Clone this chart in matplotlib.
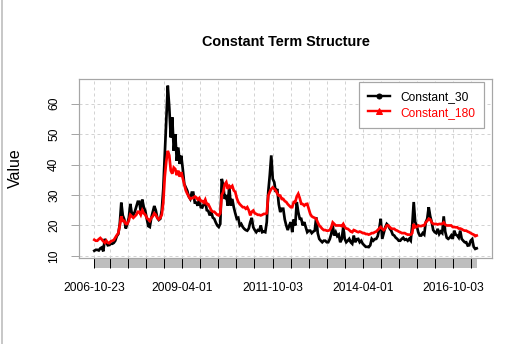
import numpy as np
import pandas as pd
import matplotlib
matplotlib.use("Agg")
import matplotlib.pyplot as plt
import matplotlib.dates as mdates
from matplotlib.lines import Line2D
from matplotlib.patches import Rectangle
import matplotlib.transforms as mtransforms

plt.rcParams["font.family"] = ["Liberation Sans", "DejaVu Sans"]

# semi-monthly readings, Oct 2006 .. May 2017
constant_30 = [
    11.7, 12.0, 12.0, 11.8, 12.5, 12.8, 11.5, 15.6, 14.5, 13.5, 13.6, 14.0,
    14.0, 14.3, 15.0, 16.5, 17.2, 20.5, 27.5, 23.3, 22.0, 19.0, 20.5, 22.5,
    27.1, 24.0, 23.3, 24.5, 26.1, 27.8, 27.8, 24.5, 28.5, 26.0, 24.8, 22.2,
    19.8, 19.5, 22.5, 24.5, 26.4, 25.0, 22.5, 21.8, 22.2, 25.0, 32.0, 43.5,
    55.5, 65.9, 58.8, 48.9, 55.5, 44.5, 50.0, 41.2, 45.6, 40.2, 42.9, 38.5,
    33.6, 32.5, 31.4, 29.5, 28.7, 30.8, 30.8, 27.5, 27.5, 26.5, 28.7, 26.0,
    25.9, 27.0, 28.0, 25.0, 24.8, 23.3, 24.5, 22.6, 22.2, 21.0, 20.0, 19.5,
    20.5, 35.3, 33.0, 28.7, 30.0, 26.5, 33.0, 26.5, 28.7, 26.0, 24.0, 22.2,
    22.5, 20.0, 20.5, 19.5, 18.9, 18.5, 18.3, 19.0, 21.1, 22.5, 19.4, 18.5,
    17.8, 18.5, 18.3, 20.0, 17.8, 18.0, 17.8, 21.1, 31.0, 36.4, 43.0, 35.3,
    34.2, 31.0, 32.0, 27.0, 24.4, 25.5, 25.5, 22.0, 20.0, 18.5, 20.0, 21.1,
    17.8, 22.0, 20.0, 27.7, 24.4, 22.2, 22.2, 20.0, 21.1, 19.5, 17.8, 18.3,
    18.3, 17.5, 18.0, 18.3, 22.7, 17.5, 15.6, 15.0, 14.5, 15.0, 15.0, 14.5,
    14.5, 15.5, 17.2, 20.0, 16.7, 17.8, 16.5, 17.0, 14.5, 15.5, 19.4, 15.6,
    14.5, 15.0, 15.6, 14.5, 14.0, 16.7, 14.5, 15.5, 15.6, 14.5, 15.0, 14.0,
    13.5, 13.0, 13.0, 12.9, 13.5, 15.6, 15.0, 15.5, 15.6, 16.5, 18.9, 22.2,
    15.6, 17.5, 19.4, 20.5, 20.0, 19.0, 18.3, 17.0, 16.7, 16.0, 15.6, 15.0,
    15.0, 15.6, 16.0, 15.3, 15.5, 15.0, 15.6, 15.0, 20.0, 27.7, 21.1, 20.0,
    17.8, 16.7, 16.7, 17.5, 17.0, 21.0, 22.2, 26.0, 23.0, 21.1, 18.5, 17.8,
    17.5, 18.9, 17.2, 18.0, 17.5, 23.0, 18.0, 16.0, 15.6, 16.0, 16.7, 15.6,
    18.3, 17.0, 16.7, 16.0, 18.3, 15.6, 15.0, 14.5, 14.5, 13.4, 13.5, 15.0,
    15.5, 13.0, 12.3, 12.5,
]

constant_180 = [
    15.3, 15.0, 15.0, 15.5, 15.9, 15.4, 14.8, 14.3, 15.0, 14.3, 14.2, 14.8,
    15.0, 15.2, 16.0, 16.8, 17.5, 20.0, 23.0, 21.5, 21.5, 20.5, 20.5, 21.5,
    23.5, 23.0, 22.5, 23.0, 23.5, 24.5, 24.5, 23.5, 25.0, 24.0, 23.5, 22.5,
    22.0, 21.5, 22.5, 23.0, 24.0, 23.5, 22.5, 22.0, 22.5, 23.5, 27.5, 36.0,
    41.0, 44.5, 43.0, 38.0, 37.0, 39.0, 38.5, 36.5, 38.0, 36.0, 37.5, 35.5,
    33.5, 31.5, 30.4, 29.5, 28.7, 29.0, 29.0, 29.5, 29.2, 28.5, 29.0, 28.0,
    28.0, 27.5, 28.5, 27.0, 27.0, 26.0, 25.0, 24.5, 24.5, 24.0, 23.5, 23.3,
    24.0, 30.0, 31.0, 33.5, 34.2, 32.0, 33.0, 32.5, 33.0, 31.5, 31.0, 29.0,
    27.7, 27.0, 26.5, 26.0, 26.0, 25.5, 26.0, 25.0, 23.3, 24.5, 24.9, 24.0,
    23.8, 23.5, 23.5, 23.3, 23.5, 23.8, 23.8, 24.0, 29.8, 31.0, 32.0, 32.5,
    32.0, 31.5, 30.5, 29.8, 29.8, 28.7, 28.7, 28.0, 27.7, 27.0, 26.5, 26.0,
    26.0, 27.7, 27.7, 29.5, 30.4, 29.0, 27.1, 27.0, 26.5, 27.0, 27.1, 25.5,
    23.8, 23.0, 22.7, 22.5, 22.2, 21.0, 20.0, 19.5, 18.9, 18.5, 18.5, 18.3,
    18.3, 18.5, 19.4, 21.0, 20.5, 20.0, 20.0, 20.0, 20.0, 19.8, 20.5, 19.5,
    19.0, 18.9, 18.5, 18.0, 17.8, 18.5, 18.3, 18.0, 17.8, 18.0, 17.8, 17.5,
    17.5, 17.2, 17.2, 17.0, 17.2, 17.5, 17.5, 17.8, 18.0, 18.5, 19.0, 19.5,
    18.9, 18.5, 19.0, 20.0, 20.0, 19.5, 19.0, 18.9, 18.9, 18.5, 18.3, 18.0,
    17.8, 17.5, 17.5, 17.5, 17.2, 17.0, 17.0, 17.0, 17.5, 20.5, 19.4, 19.5,
    20.0, 19.8, 19.8, 20.0, 20.0, 21.0, 21.5, 22.2, 22.0, 21.0, 20.5, 20.5,
    20.5, 20.3, 20.5, 20.5, 20.5, 21.0, 20.3, 20.0, 20.0, 20.0, 20.0, 19.5,
    19.5, 19.4, 19.4, 19.0, 19.0, 18.8, 18.5, 18.3, 18.3, 18.0, 17.8, 17.5,
    17.2, 17.0, 16.5, 16.7,
]

tick_dates = [
    "2006-10-23", "2007-04-02", "2007-10-01", "2008-04-01", "2008-10-01",
    "2009-04-01", "2009-10-01", "2010-04-01", "2010-10-01", "2011-04-01",
    "2011-10-03", "2012-04-02", "2012-10-01", "2013-04-01", "2013-10-01",
    "2014-04-01", "2014-10-01", "2015-04-01", "2015-10-01", "2016-04-01",
    "2016-10-03", "2017-04-03",
]
labelled = ["2006-10-23", "2009-04-01", "2011-10-03", "2014-04-01", "2016-10-03"]

dates = pd.date_range("2006-10-23", "2017-05-28", periods=len(constant_30))
ticks = pd.to_datetime(tick_dates)

W, H = 526, 344
fig = plt.figure(figsize=(W / 72, H / 72), dpi=72)
ax = fig.add_axes([79 / W, 1 - 258 / H, 413 / W, 179 / H])

ax.plot(dates, constant_30, color="black", lw=2.7, solid_joinstyle="miter")
ax.plot(dates, constant_180, color="red", lw=2.7, solid_joinstyle="miter")
ax.margins(x=0.04, y=0.04)

# grid
ax.set_yticks([10, 20, 30, 40, 50, 60])
ax.set_xticks(ticks)
ax.set_xticklabels([d if d in labelled else "" for d in tick_dates])
ax.grid(True, color="#D3D3D3", linestyle=(0, (3, 3)), lw=1)
ax.set_axisbelow(True)

for s in ax.spines.values():
    s.set_color("#A6A6A6")
    s.set_linewidth(1.2)

ax.tick_params(axis="x", direction="out", length=10, width=1, color="black",
               labelsize=12, pad=14)
ax.tick_params(axis="y", direction="out", length=8, width=1, color="#A6A6A6",
               labelsize=12, pad=11, labelrotation=90)
for lab in ax.get_yticklabels():
    lab.set_va("center")

# grey band under the x axis
trans = mtransforms.blended_transform_factory(ax.transData, ax.transAxes)
x0 = mdates.date2num(dates[0])
x1 = mdates.date2num(dates[-1])
ax.add_patch(Rectangle((x0, -10 / 179), x1 - x0, 10 / 179, transform=trans,
                       facecolor="#BEBEBE", edgecolor="none", clip_on=False,
                       zorder=0.5))

ax.set_ylabel("Value", fontsize=16)
ax.yaxis.set_label_coords(-56 / 413, 0.5)
ax.set_title("Constant Term Structure", fontsize=14.4, fontweight="bold", pad=33)

handles = [
    Line2D([], [], color="black", lw=2.4, marker="o", markersize=5),
    Line2D([], [], color="red", lw=2.4, marker="^", markersize=6),
]
leg = ax.legend(handles, ["Constant_30", "Constant_180"], loc="upper right",
                bbox_to_anchor=(405 / 413, 1 - 3 / 179), borderaxespad=0,
                fontsize=12, frameon=True, fancybox=False, framealpha=1,
                edgecolor="#A6A6A6", handlelength=1.9, handletextpad=0.8,
                labelspacing=0.3, borderpad=0.75)
leg.get_frame().set_linewidth(1.2)
for t, c in zip(leg.get_texts(), ["black", "red"]):
    t.set_color(c)

fig.add_artist(Line2D([1.5 / W, 1.5 / W], [0, 1], color="#C8C8C8", lw=2,
                      transform=fig.transFigure))

fig.savefig("out.png", dpi=72)
